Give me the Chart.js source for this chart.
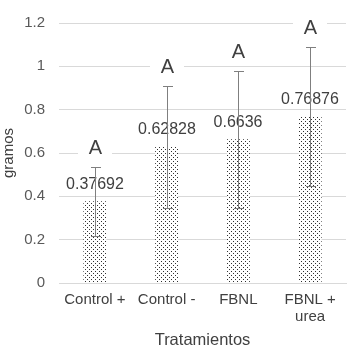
<!DOCTYPE html>
<html><head><meta charset="utf-8">
<script src="https://cdn.jsdelivr.net/npm/chart.js@4.4.1/dist/chart.umd.min.js"></script>
<style>html,body{margin:0;padding:0;background:#fff}#wrap{width:350px;height:355px}</style>
</head><body><div id="wrap"><canvas id="c" width="350" height="355"></canvas></div>
<script>
const categories = [['Control +'], ['Control -'], ['FBNL'], ['FBNL +', 'urea']];
const means = [0.37692, 0.62828, 0.6636, 0.76876];
const errorPlusMinus = [0.16, 0.28, 0.317, 0.32];
const letters = ['A', 'A', 'A', 'A'];
const valueLabels = ['0.37692', '0.62828', '0.6636', '0.76876'];
const yTicks = [0, 0.2, 0.4, 0.6, 0.8, 1, 1.2];

const FONT = '"Liberation Sans", Arial, sans-serif';

function makePattern() {
  const p = document.createElement('canvas');
  p.width = 4; p.height = 4;
  const g = p.getContext('2d');
  g.fillStyle = '#ffffff'; g.fillRect(0, 0, 4, 4);
  g.fillStyle = '#303030';
  g.fillRect(1, 1, 1, 1);
  g.fillRect(3, 3, 1, 1);
  return g.createPattern(p, 'repeat');
}

const overlay = {
  id: 'overlay',
  afterDatasetsDraw(chart) {
    const ctx = chart.ctx;
    const meta = chart.getDatasetMeta(0);
    const y = chart.scales.y;
    ctx.save();
    meta.data.forEach((bar, i) => {
      const x = Math.round(bar.x);
      const top = Math.round(y.getPixelForValue(means[i] + errorPlusMinus[i]));
      const bot = Math.round(y.getPixelForValue(means[i] - errorPlusMinus[i]));
      const barTop = y.getPixelForValue(means[i]);
      ctx.textAlign = 'center';
      ctx.textBaseline = 'middle';
      // value label
      ctx.font = '16px ' + FONT;
      ctx.fillStyle = '#404040';
      ctx.fillText(valueLabels[i], x, barTop - 17);
      // error bar
      ctx.strokeStyle = '#7f7f7f';
      ctx.lineWidth = 1;
      ctx.beginPath();
      ctx.moveTo(x + 0.5, top);
      ctx.lineTo(x + 0.5, bot);
      ctx.moveTo(x - 4, top + 0.5);
      ctx.lineTo(x + 6, top + 0.5);
      ctx.moveTo(x - 4, bot + 0.5);
      ctx.lineTo(x + 6, bot + 0.5);
      ctx.stroke();
      // letter
      ctx.font = '20px ' + FONT;
      const ly = top - 19;
      ctx.fillStyle = '#ffffff';
      ctx.fillRect(x - 17, ly - 11, 34, 22);
      ctx.fillStyle = '#404040';
      ctx.fillText(letters[i], x + 0.5, ly);
    });
    ctx.restore();
  }
};

new Chart(document.getElementById('c'), {
  type: 'bar',
  data: {
    labels: categories,
    datasets: [{
      data: means,
      backgroundColor: makePattern(),
      borderWidth: 0,
      barPercentage: 0.32,
      categoryPercentage: 1
    }]
  },
  options: {
    responsive: false,
    animation: false,
    devicePixelRatio: 1,
    layout: { padding: { top: 10, right: 4, left: 0, bottom: 0 } },
    plugins: { legend: { display: false }, tooltip: { enabled: false } },
    scales: {
      y: {
        min: 0, max: 1.2,
        afterBuildTicks(s) { s.ticks = yTicks.map(v => ({ value: v })); },
        afterFit(s) { s.width = 59; },
        grid: { color: '#d9d9d9', drawTicks: false },
        border: { display: false },
        ticks: {
          padding: 14, color: '#595959',
          font: { family: FONT, size: 15 },
          callback: (v) => String(Math.round(v * 10) / 10)
        },
        title: { display: true, text: 'gramos', color: '#404040', padding: { top: 0, bottom: 0 }, font: { family: FONT, size: 15 } }
      },
      x: {
        afterFit(s) { s.height = 72; },
        grid: { display: false },
        border: { display: true, color: '#d9d9d9' },
        ticks: { padding: 1, maxRotation: 0, autoSkip: false, color: '#404040', font: { family: FONT, size: 15, lineHeight: 1.1 } },
        title: { display: true, text: 'Tratamientos', color: '#404040', padding: { top: 0, bottom: 5 }, font: { family: FONT, size: 16.5 } }
      }
    }
  },
  plugins: [overlay]
});
</script></body></html>
